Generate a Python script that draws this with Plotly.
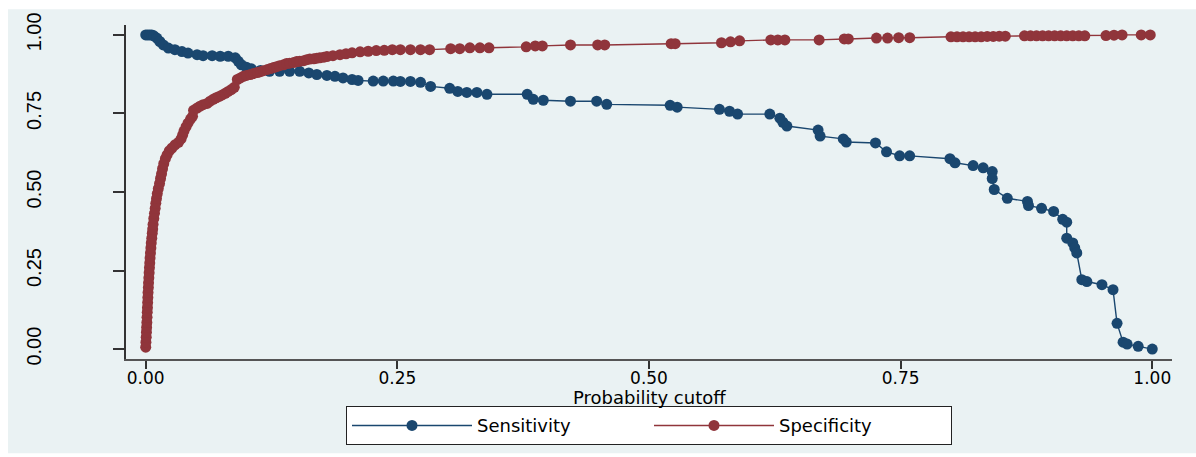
import plotly.graph_objects as go

# ---------------- data ----------------
sens_cutoff = [0.000, 0.002, 0.004, 0.006, 0.008, 0.011, 0.014, 0.0175, 0.0225, 0.029,
               0.036, 0.042, 0.051, 0.057, 0.066, 0.074, 0.082, 0.089, 0.092, 0.095,
               0.100, 0.105, 0.114, 0.123, 0.133, 0.143, 0.153, 0.162, 0.170, 0.180,
               0.188, 0.196, 0.205, 0.211, 0.226, 0.236, 0.246, 0.253, 0.263, 0.273,
               0.283, 0.302, 0.310, 0.319, 0.329, 0.339, 0.379, 0.385, 0.395, 0.422,
               0.448, 0.458, 0.521, 0.528, 0.570, 0.580, 0.588, 0.620, 0.630, 0.633,
               0.637, 0.668, 0.670, 0.693, 0.696, 0.725, 0.736, 0.749, 0.759, 0.799,
               0.804, 0.822, 0.832, 0.841, 0.841, 0.843, 0.856, 0.876, 0.877, 0.890,
               0.902, 0.911, 0.915, 0.915, 0.921, 0.923, 0.925, 0.930, 0.935, 0.950,
               0.961, 0.965, 0.971, 0.975, 0.986, 1.000]
sensitivity = [1.000, 1.000, 1.000, 1.000, 0.997, 0.990, 0.979, 0.968, 0.958, 0.953,
               0.947, 0.942, 0.937, 0.934, 0.934, 0.932, 0.932, 0.927, 0.916, 0.905,
               0.897, 0.892, 0.887, 0.884, 0.884, 0.884, 0.884, 0.879, 0.874, 0.871,
               0.868, 0.863, 0.858, 0.855, 0.853, 0.853, 0.853, 0.852, 0.852, 0.849,
               0.836, 0.830, 0.820, 0.817, 0.817, 0.811, 0.811, 0.795, 0.792, 0.789,
               0.789, 0.779, 0.776, 0.770, 0.763, 0.757, 0.748, 0.748, 0.735, 0.722,
               0.710, 0.697, 0.678, 0.669, 0.659, 0.656, 0.628, 0.615, 0.615, 0.606,
               0.593, 0.584, 0.577, 0.565, 0.543, 0.508, 0.480, 0.470, 0.457, 0.448,
               0.438, 0.413, 0.404, 0.353, 0.338, 0.322, 0.306, 0.221, 0.215, 0.205,
               0.189, 0.082, 0.022, 0.016, 0.009, 0.000]

spec_cutoff = [0.0000, 0.0002, 0.0005, 0.0007, 0.0009, 0.0011, 0.0013, 0.0015, 0.0017, 0.0019,
               0.0021, 0.0023, 0.0026, 0.0028, 0.0031, 0.0034, 0.0037, 0.0040, 0.0043, 0.0047,
               0.0051, 0.0055, 0.0060, 0.0065, 0.0069, 0.0073, 0.0080, 0.0087, 0.0094, 0.0100,
               0.0107, 0.0115, 0.0125, 0.0137, 0.0147, 0.0157, 0.0167, 0.0179, 0.0195, 0.0212,
               0.0234, 0.0261, 0.0291, 0.0326, 0.0351, 0.0366, 0.0380, 0.0400, 0.0420, 0.0445,
               0.0465, 0.0475, 0.051, 0.054, 0.057, 0.061, 0.064, 0.067, 0.070, 0.073,
               0.076, 0.079, 0.082, 0.085, 0.088, 0.091, 0.094, 0.097, 0.100, 0.104,
               0.107, 0.111, 0.114, 0.117, 0.121, 0.124, 0.127, 0.130, 0.133, 0.137,
               0.140, 0.143, 0.147, 0.150, 0.153, 0.157, 0.160, 0.163, 0.167, 0.170,
               0.173, 0.177, 0.180, 0.186, 0.193, 0.199, 0.205, 0.213, 0.221, 0.229,
               0.237, 0.245, 0.253, 0.263, 0.273, 0.282, 0.303, 0.312, 0.322, 0.332,
               0.341, 0.378, 0.387, 0.394, 0.422, 0.449, 0.456, 0.522, 0.526, 0.572,
               0.581, 0.590, 0.621, 0.628, 0.635, 0.669, 0.694, 0.698, 0.726, 0.737,
               0.748, 0.759, 0.800, 0.806, 0.812, 0.818, 0.824, 0.830, 0.836, 0.842,
               0.848, 0.854, 0.873, 0.879, 0.885, 0.891, 0.897, 0.903, 0.909, 0.915,
               0.921, 0.927, 0.933, 0.954, 0.962, 0.970, 0.989, 0.998]
specificity = [0.006, 0.022, 0.038, 0.054, 0.069, 0.085, 0.101, 0.117, 0.132, 0.148,
               0.164, 0.180, 0.196, 0.211, 0.227, 0.243, 0.259, 0.274, 0.290, 0.306,
               0.322, 0.338, 0.353, 0.369, 0.382, 0.397, 0.416, 0.432, 0.448, 0.464,
               0.479, 0.495, 0.511, 0.527, 0.543, 0.558, 0.574, 0.590, 0.606, 0.618,
               0.631, 0.640, 0.650, 0.658, 0.669, 0.681, 0.694, 0.707, 0.719, 0.732,
               0.741, 0.760, 0.767, 0.773, 0.778, 0.782, 0.789, 0.795, 0.800, 0.804,
               0.809, 0.814, 0.820, 0.826, 0.833, 0.858, 0.863, 0.868, 0.871, 0.874,
               0.877, 0.880, 0.883, 0.886, 0.890, 0.893, 0.896, 0.899, 0.902, 0.905,
               0.909, 0.910, 0.912, 0.915, 0.916, 0.918, 0.921, 0.923, 0.924, 0.926,
               0.927, 0.929, 0.931, 0.934, 0.937, 0.940, 0.943, 0.946, 0.948, 0.950,
               0.951, 0.953, 0.953, 0.953, 0.953, 0.953, 0.956, 0.956, 0.959, 0.959,
               0.959, 0.962, 0.965, 0.965, 0.968, 0.968, 0.968, 0.972, 0.972, 0.975,
               0.978, 0.981, 0.984, 0.984, 0.984, 0.984, 0.987, 0.987, 0.990, 0.990,
               0.991, 0.991, 0.994, 0.994, 0.994, 0.994, 0.994, 0.994, 0.995, 0.995,
               0.996, 0.996, 0.997, 0.997, 0.997, 0.997, 0.997, 0.997, 0.997, 0.997,
               0.997, 0.997, 0.997, 0.998, 0.999, 1.000, 1.000, 1.000]

tick_values = [0.0, 0.25, 0.5, 0.75, 1.0]
tick_labels = ["0.00", "0.25", "0.50", "0.75", "1.00"]
x_title = "Probability cutoff"
series_names = ["Sensitivity", "Specificity"]

# ---------------- style ----------------
NAVY = "#1A476F"
MAROON = "#90353B"
BG = "#EAF2F3"
W, H = 1196, 457
L, R, T, B = 126, 24, 25, 95
PW, PH = W - L - R, H - T - B
TEXT_FONT = "DejaVu Sans, Verdana, sans-serif"


def px_to_paper_y(py):
    return (H - B - py) / PH


def px_to_paper_x(px):
    return (px - L) / PW


fig = go.Figure()
fig.add_trace(go.Scatter(
    x=sens_cutoff, y=sensitivity, mode="lines+markers", name=series_names[0],
    line=dict(color=NAVY, width=1.4), marker=dict(color=NAVY, size=11)))
fig.add_trace(go.Scatter(
    x=spec_cutoff, y=specificity, mode="lines+markers", name=series_names[1],
    line=dict(color=MAROON, width=1.4), marker=dict(color=MAROON, size=11)))

# graph-region background (light bluish gray) with a thin white page margin top/left
fig.add_shape(type="rect", xref="paper", yref="paper", layer="below",
              x0=px_to_paper_x(8), x1=px_to_paper_x(W),
              y0=px_to_paper_y(H), y1=px_to_paper_y(9),
              fillcolor=BG, line=dict(width=0))

# x-axis title
fig.add_annotation(text=x_title, xref="paper", yref="paper", x=0.5, y=px_to_paper_y(401),
                   xanchor="center", yanchor="middle", showarrow=False,
                   font=dict(family=TEXT_FONT, size=18, color="black"))

fig.update_layout(
    width=W, height=H,
    margin=dict(l=L, r=R, t=T, b=B, pad=0),
    paper_bgcolor="white",
    plot_bgcolor="white",
    showlegend=True,
    legend=dict(
        orientation="h", x=0.5, xanchor="center", y=px_to_paper_y(449), yanchor="bottom",
        bgcolor="white", bordercolor="#222222", borderwidth=1,
        font=dict(family=TEXT_FONT, size=18, color="black"),
        itemwidth=120, entrywidth=167,
    ),
    xaxis=dict(
        range=[-0.0196, 1.0196], tickvals=tick_values, ticktext=tick_labels,
        showgrid=True, gridcolor=BG, gridwidth=2, zeroline=False,
        showline=True, linecolor="#555555", linewidth=1.5,
        ticks="outside", ticklen=8, tickwidth=1.5, tickcolor="#333333",
        ticklabelstandoff=-5,
        tickfont=dict(family=TEXT_FONT, size=17, color="black"),
    ),
    yaxis=dict(
        range=[-0.0315, 1.0315], tickvals=tick_values, ticktext=tick_labels,
        showgrid=True, gridcolor=BG, gridwidth=2, zeroline=False,
        showline=True, linecolor="#333333", linewidth=1.5,
        ticks="outside", ticklen=11, tickwidth=1.5, tickcolor="#333333",
        tickangle=-90, ticklabelstandoff=64,
        tickfont=dict(family="Liberation Sans Narrow, Arial Narrow, Liberation Sans, sans-serif",
                      size=20, color="black"),
    ),
)

fig.write_html("out.html", config={"displayModeBar": False},
               post_script="document.body.style.margin='0';document.body.style.overflow='hidden';")
